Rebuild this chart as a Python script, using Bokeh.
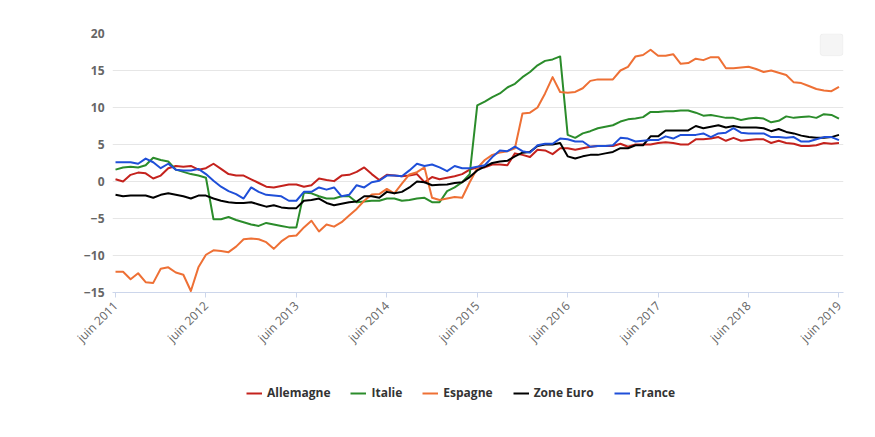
import math
from bokeh.plotting import figure
from bokeh.layouts import column
from bokeh.models import (ColumnDataSource, FixedTicker, Legend, LegendItem,
                          BoxAnnotation)
from bokeh.embed import file_html
from bokeh.resources import INLINE

# Monthly index: 0 = juin 2011 ... 96 = juin 2019
tick_labels = ["juin 2011", "juin 2012", "juin 2013", "juin 2014", "juin 2015",
               "juin 2016", "juin 2017", "juin 2018", "juin 2019"]

allemagne = [0.3, 0.0, 0.9, 1.2, 1.1, 0.4, 0.8, 1.8, 2.1, 2.0, 2.1, 1.6, 1.8, 2.4, 1.7, 1.0,
             0.8, 0.8, 0.3, -0.2, -0.7, -0.8, -0.6, -0.4, -0.4, -0.7, -0.5, 0.4, 0.2, 0.05,
             0.8, 0.9, 1.3, 1.9, 1.0, 0.2, 0.9, 0.8, 0.7, 0.8, 1.0, -0.1, 0.6, 0.3, 0.5, 0.7,
             1.0, 1.6, 1.9, 1.9, 2.3, 2.3, 2.2, 3.8, 3.6, 3.3, 4.3, 4.2, 3.7, 4.5, 4.5, 4.3,
             4.5, 4.7, 4.8, 4.8, 4.8, 5.1, 4.7, 5.0, 5.0, 5.0, 5.2, 5.3, 5.2, 5.0, 5.0, 5.7,
             5.7, 5.8, 6.0, 5.5, 5.9, 5.5, 5.6, 5.7, 5.7, 5.2, 5.5, 5.2, 5.1, 4.8, 4.8, 4.9,
             5.2, 5.1, 5.2]

italie = [1.6, 1.9, 2.0, 1.9, 2.2, 3.2, 2.9, 2.7, 1.6, 1.3, 1.0, 0.8, 0.5, -5.1, -5.1, -4.8,
          -5.2, -5.5, -5.8, -6.0, -5.6, -5.8, -6.0, -6.2, -6.2, -1.5, -1.6, -2.0, -2.3, -2.3,
          -2.0, -2.0, -2.8, -2.7, -2.6, -2.6, -2.3, -2.3, -2.6, -2.5, -2.3, -2.2, -2.8, -2.8,
          -1.3, -0.8, -0.1, 1.0, 10.3, 10.8, 11.4, 11.9, 12.7, 13.2, 14.1, 14.8, 15.7, 16.3,
          16.5, 16.9, 6.3, 5.9, 6.5, 6.8, 7.2, 7.4, 7.6, 8.1, 8.4, 8.5, 8.7, 9.4, 9.4, 9.5,
          9.5, 9.6, 9.6, 9.3, 8.9, 9.0, 8.8, 8.6, 8.6, 8.3, 8.5, 8.6, 8.5, 8.0, 8.2, 8.8,
          8.6, 8.7, 8.8, 8.6, 9.1, 9.0, 8.5]

espagne = [-12.2, -12.2, -13.2, -12.4, -13.6, -13.7, -11.8, -11.6, -12.3, -12.6, -14.8,
           -11.6, -9.9, -9.3, -9.4, -9.55, -8.8, -7.8, -7.7, -7.8, -8.2, -9.1, -8.1, -7.4,
           -7.3, -6.2, -5.3, -6.75, -5.8, -6.1, -5.5, -4.6, -3.7, -2.6, -1.75, -1.7, -1.0,
           -1.6, -0.3, 0.95, 1.26, 1.9, -2.2, -2.5, -2.3, -2.1, -2.2, -0.1, 1.8, 2.9, 3.6,
           3.9, 4.1, 4.5, 9.2, 9.3, 10.0, 11.9, 14.1, 12.1, 12.0, 12.1, 12.6, 13.6, 13.8,
           13.8, 13.8, 15.0, 15.5, 16.9, 17.1, 17.8, 17.0, 17.0, 17.2, 15.9, 16.0, 16.6,
           16.4, 16.8, 16.8, 15.3, 15.3, 15.4, 15.5, 15.2, 14.8, 15.0, 14.7, 14.4, 13.4,
           13.3, 12.9, 12.5, 12.3, 12.2, 12.8]

zone_euro = [-1.8, -2.0, -1.9, -1.9, -1.9, -2.2, -1.8, -1.6, -1.8, -2.0, -2.3, -1.9, -1.9,
             -2.3, -2.6, -2.8, -2.9, -2.9, -2.8, -3.1, -3.4, -3.2, -3.5, -3.6, -3.6, -2.6,
             -2.5, -2.3, -2.9, -3.2, -3.0, -2.8, -2.7, -2.0, -2.0, -2.2, -1.4, -1.6, -1.4,
             -0.8, 0.0, -0.1, -0.5, -0.45, -0.4, -0.2, -0.1, 0.6, 1.5, 2.0, 2.5, 2.7, 2.8,
             3.4, 3.9, 4.0, 4.8, 5.0, 5.0, 5.2, 3.4, 3.1, 3.4, 3.6, 3.6, 3.8, 4.0, 4.5, 4.5,
             4.9, 4.9, 6.1, 6.1, 6.9, 6.9, 6.9, 6.9, 7.5, 7.2, 7.4, 7.6, 7.3, 7.5, 7.3, 7.3,
             7.3, 7.2, 6.8, 7.1, 6.7, 6.5, 6.2, 6.0, 5.9, 5.9, 6.0, 6.3]

france = [2.6, 2.6, 2.6, 2.4, 3.1, 2.6, 1.8, 2.4, 1.6, 1.5, 1.5, 1.7, 1.0, 0.1, -0.7, -1.3,
          -1.7, -2.3, -0.8, -1.4, -1.8, -1.9, -2.0, -2.6, -2.6, -1.4, -1.4, -0.8, -1.1, -0.8,
          -2.0, -1.8, -0.5, -0.8, -0.1, 0.1, 0.8, 0.8, 0.7, 1.5, 2.4, 2.1, 2.3, 1.9, 1.4,
          2.1, 1.8, 1.8, 2.0, 2.2, 3.3, 4.2, 4.1, 4.7, 4.1, 3.9, 4.9, 5.1, 5.1, 5.8, 5.7,
          5.4, 5.4, 4.7, 4.8, 4.8, 4.9, 5.9, 5.8, 5.4, 5.5, 5.6, 5.6, 6.1, 5.8, 6.3, 6.3,
          6.3, 6.5, 6.0, 6.5, 6.6, 7.2, 6.6, 6.5, 6.5, 6.5, 6.0, 6.0, 5.9, 6.0, 5.4, 5.4,
          5.7, 6.0, 6.0, 5.6]

series_names = ["Allemagne", "Italie", "Espagne", "Zone Euro", "France"]
series_values = [allemagne, italie, espagne, zone_euro, france]
series_colors = ["#c4221d", "#2b8c2b", "#ee7035", "#000000", "#1f4fd8"]

months = list(range(len(allemagne)))
tick_positions = [12 * k for k in range(len(tick_labels))]

FONT = "Open Sans"
MAIN_H = 365
LEG_H = 437 - MAIN_H

p = figure(width=875, height=MAIN_H, output_backend="svg", toolbar_location=None,
           x_range=(-0.4, 96.6), y_range=(-15, 20),
           min_border_left=112, min_border_right=32, min_border_top=33,
           min_border_bottom=MAIN_H - 292)
p.outline_line_color = None
p.background_fill_color = "white"
p.border_fill_color = "white"

# grid
p.xgrid.grid_line_color = None
p.ygrid.grid_line_color = "#e6e6e6"
p.ygrid.grid_line_width = 1
p.yaxis.ticker = FixedTicker(ticks=[-15, -10, -5, 0, 5, 10, 15, 20])
p.xaxis.ticker = FixedTicker(ticks=tick_positions)
p.xaxis.major_label_overrides = {t: lab for t, lab in zip(tick_positions, tick_labels)}
p.xaxis.major_label_orientation = math.pi / 4
p.xaxis.axis_line_color = "#ccd6eb"
p.xaxis.major_tick_line_color = "#ccd6eb"
p.xaxis.major_tick_out = 5
p.xaxis.major_tick_in = 0
p.xaxis.minor_tick_line_color = None
p.xaxis.major_label_text_font = FONT
p.xaxis.major_label_text_font_size = "12px"
p.xaxis.major_label_text_color = "#666666"
p.xaxis.major_label_standoff = 6

p.yaxis.axis_line_color = None
p.yaxis.major_tick_line_color = None
p.yaxis.minor_tick_line_color = None
p.yaxis.major_tick_out = 0
p.yaxis.major_tick_in = 0
p.yaxis.minor_tick_out = 0
p.yaxis.major_label_text_font = FONT
p.yaxis.major_label_text_font_size = "12px"
p.yaxis.major_label_text_font_style = "bold"
p.yaxis.major_label_text_color = "#666666"
p.yaxis.major_label_standoff = 8

for name, vals, col in zip(series_names, series_values, series_colors):
    src = ColumnDataSource(dict(x=months, y=vals))
    p.line("x", "y", source=src, line_color=col, line_width=2, line_join="round")

box = BoxAnnotation(left=93.5, right=96.55, bottom=17.0, top=19.95,
                    fill_color="#f5f5f5", fill_alpha=1.0,
                    line_color="#dddddd", line_width=1, border_radius=3)
p.add_layout(box)

# Legend strip below the chart (its frame is aligned with the chart frame)
lg = figure(width=875, height=LEG_H, output_backend="svg", toolbar_location=None,
            x_range=(0, 1), y_range=(0, 1), x_axis_type=None, y_axis_type=None,
            min_border_left=112, min_border_right=32,
            min_border_top=0, min_border_bottom=0)
lg.outline_line_color = None
lg.xgrid.visible = False
lg.ygrid.visible = False
items = []
for name, col in zip(series_names, series_colors):
    # off-screen placeholder line: only its legend swatch is seen
    r = lg.line(x=[5, 6], y=[5, 6], line_color=col, line_width=2)
    items.append(LegendItem(label=name, renderers=[r]))

legend = Legend(items=items, orientation="horizontal", location=(134, LEG_H - 36),
                glyph_width=16, glyph_height=14, label_standoff=5, spacing=20,
                padding=0, margin=0, border_line_color=None,
                background_fill_alpha=0,
                label_text_font=FONT, label_text_font_size="12px",
                label_text_font_style="bold", label_text_color="#333333")
lg.add_layout(legend, "center")

layout = column(p, lg, spacing=0)
open("out.html", "w").write(file_html(layout, INLINE))
